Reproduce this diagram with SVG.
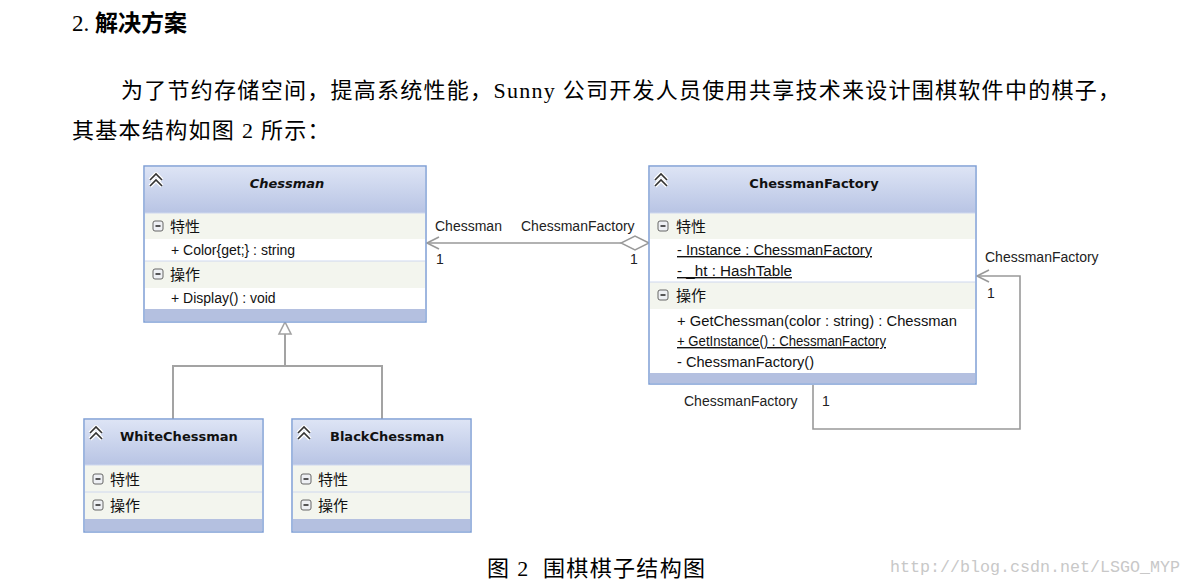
<svg xmlns="http://www.w3.org/2000/svg" width="1191" height="586" viewBox="0 0 1191 586">
<style>
.doc{font-family:"Liberation Serif","Noto Sans CJK SC",serif;fill:#000}
.t{font-family:"Liberation Sans","Noto Sans CJK SC",sans-serif;font-size:14px;fill:#111}
.title{font-family:"DejaVu Sans","Liberation Sans",sans-serif;font-size:13px;font-weight:bold;fill:#111}
.sec{font-family:"Noto Sans CJK SC",sans-serif;font-size:15px;fill:#111}
.u{text-decoration:underline}
.box{fill:#fff;stroke:#7f9fd5;stroke-width:1.5}
.row{fill:#f3f5ee}
.sep{stroke:#cfd8ee;stroke-width:1}
.bar{fill:#b4c0e0}
.con{fill:none;stroke:#999;stroke-width:1.6}
.gen{fill:none;stroke:#a3a3a3;stroke-width:2}
.lbl{font-family:"Liberation Sans",sans-serif;font-size:14px;fill:#222}
</style>
<defs>
<linearGradient id="hdr" x1="0" y1="0" x2="0" y2="1">
<stop offset="0" stop-color="#dde4f5"/>
<stop offset="1" stop-color="#b8c4e4"/>
</linearGradient>
<g id="chev">
<path d="M0,6 L6,0 L12,6 M0,12 L6,6 L12,12" fill="none" stroke="#fff" stroke-width="4" stroke-linejoin="round"/>
<path d="M0,6 L6,0 L12,6 M0,12 L6,6 L12,12" fill="none" stroke="#333" stroke-width="1.6"/>
</g>
<g id="minus">
<rect x="0" y="0" width="10" height="10" rx="2" fill="#eef0f4" stroke="#666" stroke-width="1"/>
<line x1="2.5" y1="5" x2="7.5" y2="5" stroke="#222" stroke-width="1.5"/>
</g>
</defs>
<rect width="1191" height="586" fill="#fff"/>

<text class="doc" x="72" y="31" font-size="23" xml:space="preserve">2. <tspan font-weight="bold">解决方案</tspan></text>
<text class="doc" x="121" y="98" font-size="22" textLength="999" lengthAdjust="spacing">为了节约存储空间，提高系统性能，Sunny 公司开发人员使用共享技术来设计围棋软件中的棋子，</text>
<text class="doc" x="72" y="138" font-size="22" letter-spacing="1.3">其基本结构如图 2 所示：</text>

<g id="connectors">
<path class="gen" d="M285,334 V366 M173,419 V366 H382 V419"/>
<path d="M285,322 L279,334 L291,334 Z" fill="#fff" stroke="#a3a3a3" stroke-width="1.6"/>
<line class="con" x1="427" y1="243" x2="621" y2="243"/>
<path class="con" d="M439,237 L427,243 L439,249"/>
<path d="M649,243 L635,236 L621,243 L635,250 Z" fill="#fff" stroke="#999" stroke-width="1.4"/>
<path class="con" d="M977,276 H1020 V429 H813 V385"/>
<path class="con" d="M989,270 L977,276 L989,282"/>
<text class="lbl" x="435" y="231">Chessman</text>
<text class="lbl" x="521" y="231">ChessmanFactory</text>
<text class="lbl" x="436" y="264">1</text>
<text class="lbl" x="630" y="264">1</text>
<text class="lbl" x="985" y="262">ChessmanFactory</text>
<text class="lbl" x="987" y="298">1</text>
<text class="lbl" x="684" y="406">ChessmanFactory</text>
<text class="lbl" x="822" y="406">1</text>
</g>

<g id="Chessman">
<rect class="box" x="144" y="166" width="282" height="156"/>
<rect x="145" y="167" width="280" height="46" fill="url(#hdr)"/>
<rect class="row" x="145" y="213" width="280" height="26"/>
<rect class="row" x="145" y="261" width="280" height="27"/>
<rect class="bar" x="145" y="309" width="280" height="12"/>
<line class="sep" x1="145" y1="213" x2="425" y2="213"/>
<line class="sep" x1="145" y1="261" x2="425" y2="261"/>
<use href="#chev" x="150" y="174"/>
<text class="title" x="287" y="188" text-anchor="middle" font-style="italic">Chessman</text>
<use href="#minus" x="153" y="221"/>
<text class="sec" x="170" y="232">特性</text>
<text class="t" x="171" y="255">+ Color{get;} : string</text>
<use href="#minus" x="153" y="269"/>
<text class="sec" x="170" y="280">操作</text>
<text class="t" x="171" y="303">+ Display() : void</text>
</g>

<g id="ChessmanFactory">
<rect class="box" x="649" y="166" width="327" height="218"/>
<rect x="650" y="167" width="325" height="46" fill="url(#hdr)"/>
<rect class="row" x="650" y="213" width="325" height="26"/>
<rect class="row" x="650" y="282" width="325" height="27"/>
<rect class="bar" x="650" y="373" width="325" height="10"/>
<line class="sep" x1="650" y1="213" x2="975" y2="213"/>
<line class="sep" x1="650" y1="282" x2="975" y2="282"/>
<use href="#chev" x="655" y="174"/>
<text class="title" x="814" y="188" text-anchor="middle">ChessmanFactory</text>
<use href="#minus" x="658" y="221"/>
<text class="sec" x="676" y="232">特性</text>
<text class="t u" x="677" y="255" textLength="195" lengthAdjust="spacingAndGlyphs">- Instance : ChessmanFactory</text>
<text class="t u" x="677" y="276" textLength="115" lengthAdjust="spacingAndGlyphs">- _ht : HashTable</text>
<use href="#minus" x="658" y="290"/>
<text class="sec" x="676" y="301">操作</text>
<text class="t" x="677" y="326" textLength="280" lengthAdjust="spacingAndGlyphs">+ GetChessman(color : string) : Chessman</text>
<text class="t u" x="677" y="346" font-size="12.5" textLength="209" lengthAdjust="spacingAndGlyphs">+ GetInstance() : ChessmanFactory</text>
<text class="t" x="677" y="367" textLength="137" lengthAdjust="spacingAndGlyphs">- ChessmanFactory()</text>
</g>

<g id="WhiteChessman">
<rect class="box" x="84" y="419" width="179" height="113"/>
<rect x="85" y="420" width="177" height="45" fill="url(#hdr)"/>
<rect class="row" x="85" y="465" width="177" height="54"/>
<rect class="bar" x="85" y="519" width="177" height="12"/>
<line class="sep" x1="85" y1="465" x2="262" y2="465"/>
<line class="sep" x1="85" y1="492" x2="262" y2="492"/>
<use href="#chev" x="90" y="427"/>
<text class="title" x="120" y="441">WhiteChessman</text>
<use href="#minus" x="93" y="474"/>
<text class="sec" x="110" y="485">特性</text>
<use href="#minus" x="93" y="500"/>
<text class="sec" x="110" y="511">操作</text>
</g>

<g id="BlackChessman">
<rect class="box" x="292" y="419" width="179" height="113"/>
<rect x="293" y="420" width="177" height="45" fill="url(#hdr)"/>
<rect class="row" x="293" y="465" width="177" height="54"/>
<rect class="bar" x="293" y="519" width="177" height="12"/>
<line class="sep" x1="293" y1="465" x2="470" y2="465"/>
<line class="sep" x1="293" y1="492" x2="470" y2="492"/>
<use href="#chev" x="298" y="427"/>
<text class="title" x="330" y="441">BlackChessman</text>
<use href="#minus" x="301" y="474"/>
<text class="sec" x="318" y="485">特性</text>
<use href="#minus" x="301" y="500"/>
<text class="sec" x="318" y="511">操作</text>
</g>

<text class="doc" x="487" y="576" font-size="22" textLength="218" lengthAdjust="spacing" xml:space="preserve">图 2  围棋棋子结构图</text>
<text x="890" y="572" font-family="Liberation Mono,monospace" font-size="17" fill="#c8c8c8" textLength="290" lengthAdjust="spacingAndGlyphs">http://blog.csdn.net/LSGO_MYP</text>
</svg>
